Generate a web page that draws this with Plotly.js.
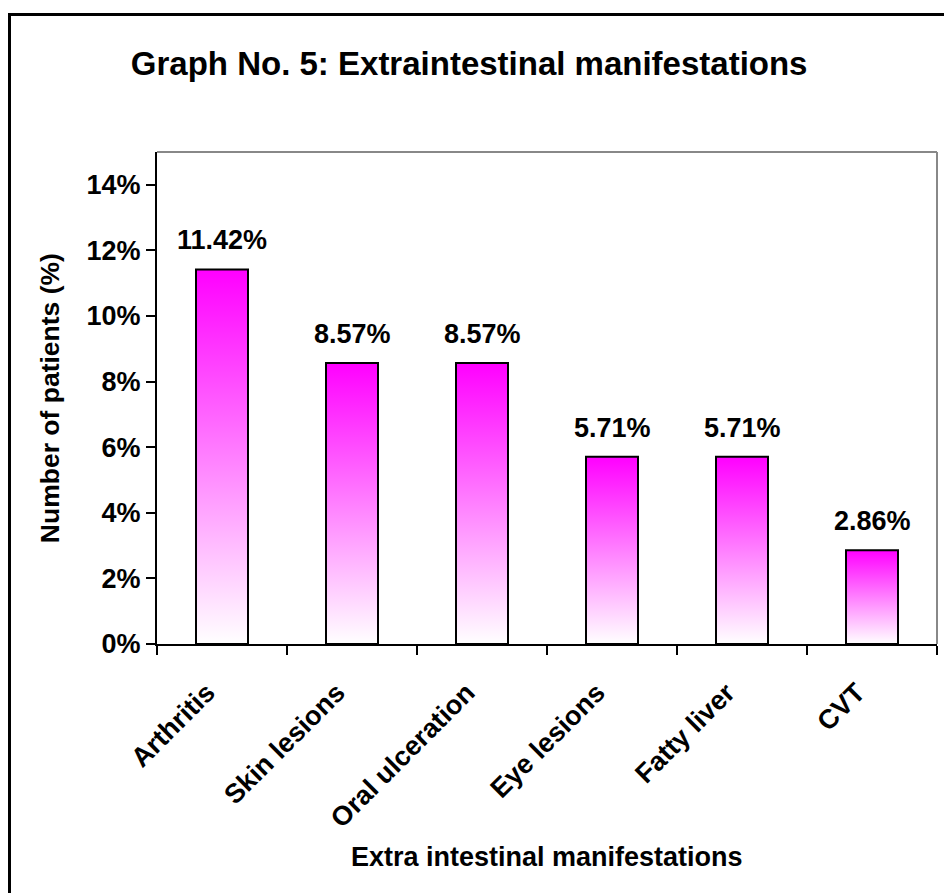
<!DOCTYPE html>
<html>
<head>
<meta charset="utf-8">
<script src="https://cdn.plot.ly/plotly-3.0.1.min.js"></script>
<style>
  html, body { margin: 0; padding: 0; background: #fff; overflow: hidden; }
  #wrap { position: relative; width: 944px; height: 893px; }
  #chart { position: absolute; left: 0; top: 0; width: 944px; height: 893px; }
  #frame { position: absolute; left: 8px; top: 13px; width: 960px; height: 900px;
           border-left: 3px solid #000; border-top: 3px solid #000; pointer-events: none; }
</style>
</head>
<body>
<div id="wrap">
  <div id="chart"></div>
  <div id="frame"></div>
</div>
<script>
// ---- data ----
const categories = ["Arthritis", "Skin lesions", "Oral ulceration", "Eye lesions", "Fatty liver", "CVT"];
const percentValues = [11.42, 8.57, 8.57, 5.71, 5.71, 2.86];
const yTickVals = [0, 2, 4, 6, 8, 10, 12, 14];
const yTickText = ["0%", "2%", "4%", "6%", "8%", "10%", "12%", "14%"];

const FONT = "Liberation Sans, Arial, sans-serif";
const halfWidth = 0.2;
const idx = categories.map((c, i) => i);

// gradient-filled bars, built from data through the axis scales
const traces = categories.map((c, i) => {
  const v = percentValues[i];
  return {
    type: "scatter",
    mode: "lines",
    x: [i - halfWidth, i - halfWidth, i + halfWidth, i + halfWidth, i - halfWidth],
    y: [0, v, v, 0, 0],
    fill: "toself",
    fillgradient: { type: "vertical", colorscale: [[0, "#ffffff"], [1, "#ff00ff"]] },
    line: { color: "#000", width: 2 },
    hoverinfo: "skip",
    showlegend: false,
    name: c
  };
});

const annotations = categories.map((c, i) => ({
  x: i, y: percentValues[i], xref: "x", yref: "y",
  text: "<b>" + percentValues[i].toFixed(2) + "%</b>",
  showarrow: false, yanchor: "bottom", yshift: 12,
  font: { family: FONT, size: 27, color: "#000" }
}));
annotations.push({
  xref: "paper", yref: "paper", x: 0.5, y: -0.433, yanchor: "middle",
  text: "<b>Extra intestinal manifestations</b>", showarrow: false,
  font: { family: FONT, size: 27, color: "#000" }
});
annotations.push({
  xref: "paper", yref: "paper", x: -0.137, y: 0.5, xanchor: "center", yanchor: "middle",
  textangle: -90,
  text: "<b>Number of patients (%)</b>", showarrow: false,
  font: { family: FONT, size: 26.5, color: "#000" }
});

const minorVals = categories.concat([""]).map((c, i) => i - 0.5);

const layout = {
  width: 944, height: 893,
  margin: { l: 157, r: 7, t: 152, b: 249 },
  paper_bgcolor: "rgba(0,0,0,0)",
  plot_bgcolor: "#fff",
  showlegend: false,
  title: {
    text: "<b>Graph No. 5: Extraintestinal manifestations</b>",
    x: 0.497, xanchor: "center", y: 1 - 63 / 893, yanchor: "middle",
    font: { family: FONT, size: 33, color: "#000" }
  },
  xaxis: {
    range: [-0.5, 5.5],
    tickvals: idx, ticktext: categories.map(c => "<b>" + c + "</b>"),
    tickangle: -45,
    ticks: "",
    ticklabelstandoff: 20,
    ticklabelshift: -15,
    showgrid: false, zeroline: false,
    showline: true, linecolor: "#000", linewidth: 2,
    tickfont: { family: FONT, size: 27, color: "#000" },
    minor: { tickvals: minorVals, ticks: "outside", ticklen: 9, tickwidth: 2, tickcolor: "#000", showgrid: false },
    fixedrange: true
  },
  yaxis: {
    range: [0, 15],
    tickvals: yTickVals, ticktext: yTickText.map(t => "<b>" + t + "</b>"),
    ticks: "outside", ticklen: 9, tickwidth: 2, tickcolor: "#000",
    showgrid: false, zeroline: false,
    showline: true, linecolor: "#000", linewidth: 2,
    tickfont: { family: FONT, size: 27, color: "#000" },
    fixedrange: true
  },
  shapes: [
    { type: "line", xref: "paper", yref: "paper", x0: 0, x1: 1, y0: 1, y1: 1, line: { color: "#888", width: 2 } },
    { type: "line", xref: "paper", yref: "paper", x0: 1, x1: 1, y0: 0, y1: 1, line: { color: "#888", width: 2 } }
  ],
  annotations: annotations
};

Plotly.newPlot("chart", traces, layout, { staticPlot: true, displayModeBar: false });
</script>
</body>
</html>
